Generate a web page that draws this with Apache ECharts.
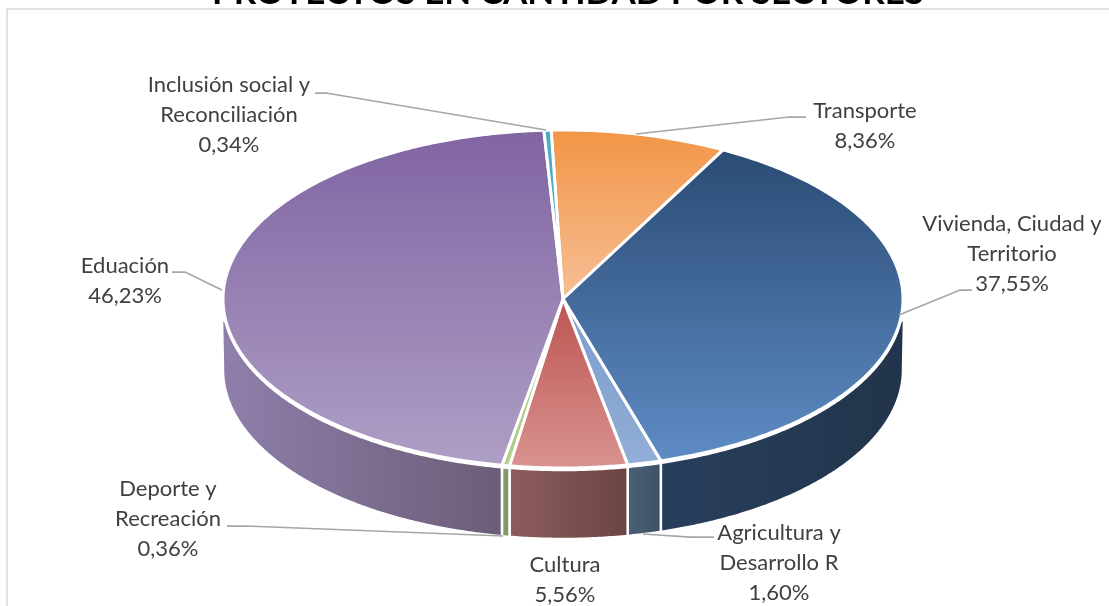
<!DOCTYPE html>
<html>
<head>
<meta charset="utf-8">
<title>Proyectos en cantidad por sectores</title>
<script src="https://cdn.jsdelivr.net/npm/echarts@6/dist/echarts.min.js"></script>
<style>
    html, body { margin: 0; padding: 0; background: #fff; }
    #chart { width: 1109px; height: 606px; }
</style>
</head>
<body>
<div id="chart"></div>
<script>
const titleText = 'PROYECTOS EN CANTIDAD POR SECTORES';
const categories = ['Transporte', 'Vivienda, Ciudad y\nTerritorio', 'Agricultura y\nDesarrollo R', 'Cultura', 'Deporte y\nRecreación', 'Eduación', 'Inclusión social y\nReconciliación'];
const shares = [8.36, 37.55, 1.60, 5.56, 0.36, 46.23, 0.34];

// top face gradient, dark at the back, light at the front
const topDark = ['#f29546', '#2a4b74', '#7b9bcb', '#bb5450', '#9abb6c', '#8064a2', '#4bacc6'];
const topLight = ['#f6bf96', '#5f8cc5', '#92aed7', '#da9391', '#b5d08f', '#ae9fc5', '#4bacc6'];
// wall gradient, left to right
const wallLeft = ['#f29546', '#283f5c', '#4a5f78', '#8d5d5c', '#85a06c', '#8f7fab', '#4bacc6'];
const wallRight = ['#f29546', '#22344b', '#3f5165', '#6b4543', '#7b9464', '#6b5d78', '#4bacc6'];

// where the text sits and how its leader runs
const labelPos = [[865, 126], [1012, 254], [779, 563], [565, 580], [168, 519], [125, 281], [229, 115]];
const leaders = [
    [[806, 117], [789, 117], [636, 134]],
    [[972, 290], [960, 290], [899, 315]],
    [[714, 537], [690, 537], [643, 534]],
    null,
    [[227, 526], [246, 526], [503, 536]],
    [[172, 272], [185, 272], [222, 290]],
    [[315, 93], [326, 93], [546, 130]]
];

const cx = 563, cy = 299, rx = 340, ry = 169, depth = 71, startDeg = -2;
// the walls only start a little under the widest point of the rim
const wallInset = 7, wallShoulder = 19;

function rim(deg, drop) {
    const r = deg * Math.PI / 180;
    return [cx + rx * Math.sin(r), cy - ry * Math.cos(r) + drop];
}

function arcPoints(from, to, drop) {
    const pts = [];
    const n = Math.max(2, Math.ceil(Math.abs(to - from) / 0.5));
    for (let i = 0; i <= n; i++) {
        pts.push(rim(from + (to - from) * i / n, drop));
    }
    return pts;
}

const total = shares.reduce((a, b) => a + b, 0);
let acc = startDeg;
const sliceData = shares.map(v => {
    const from = acc;
    acc += v / total * 360;
    return [from, acc, v];
});

function renderWall(params, api) {
    const i = params.dataIndex;
    const from = Math.max(api.value(0), 90);
    const to = Math.min(api.value(1), 270);
    if (to <= from) return null;
    let pts = arcPoints(Math.max(from, 90 + wallInset), Math.min(to, 270 - wallInset), 2);
    if (from === 90) pts.unshift([cx + rx + 1, cy + wallShoulder]);
    if (to === 270) pts.push([cx - rx - 1, cy + wallShoulder]);
    pts = pts.concat(arcPoints(to, from, depth));
    return {
        type: 'polygon',
        shape: { points: pts },
        style: {
            fill: new echarts.graphic.LinearGradient(0, 0, 1, 0, [
                { offset: 0, color: wallLeft[i] },
                { offset: 1, color: wallRight[i] }
            ]),
            stroke: '#fff',
            lineWidth: 2.5,
            lineJoin: 'round'
        }
    };
}

function renderTop(params, api) {
    const i = params.dataIndex;
    const pts = [[cx, cy]].concat(arcPoints(api.value(0), api.value(1), 0));
    return {
        type: 'polygon',
        shape: { points: pts },
        style: {
            fill: new echarts.graphic.LinearGradient(0, 0, 0, 1, [
                { offset: 0, color: topDark[i] },
                { offset: 1, color: topLight[i] }
            ]),
            stroke: '#fff',
            lineWidth: 3,
            lineJoin: 'round'
        }
    };
}

function renderLabel(params, api) {
    const i = params.dataIndex;
    const children = [{
        type: 'text',
        style: {
            x: labelPos[i][0],
            y: labelPos[i][1],
            text: categories[i] + '\n' + shares[i].toFixed(2).replace('.', ',') + '%',
            fill: '#404040',
            font: '22px Lato, sans-serif',
            lineHeight: 30,
            align: 'center',
            verticalAlign: 'middle'
        }
    }];
    if (leaders[i]) {
        children.push({
            type: 'polyline',
            shape: { points: leaders[i] },
            style: { fill: 'none', stroke: '#a6a6a6', lineWidth: 1.75 }
        });
    }
    return { type: 'group', children: children };
}

const chart = echarts.init(document.getElementById('chart'));
chart.setOption({
    animation: false,
    backgroundColor: '#fff',
    title: {
        text: titleText,
        left: 207,
        top: -30,
        textStyle: { fontFamily: 'Lato', fontWeight: 'bold', fontSize: 35, color: '#000' }
    },
    graphic: [{
        type: 'rect',
        silent: true,
        shape: { x: 7, y: 9, width: 1200, height: 700 },
        style: { fill: 'none', stroke: '#d9d9d9', lineWidth: 1.5 }
    }],
    series: [
        { type: 'custom', coordinateSystem: 'none', silent: true, data: sliceData, renderItem: renderWall },
        { type: 'custom', coordinateSystem: 'none', silent: true, data: sliceData, renderItem: renderTop },
        { type: 'custom', coordinateSystem: 'none', silent: true, data: sliceData, renderItem: renderLabel }
    ]
});
</script>
</body>
</html>
